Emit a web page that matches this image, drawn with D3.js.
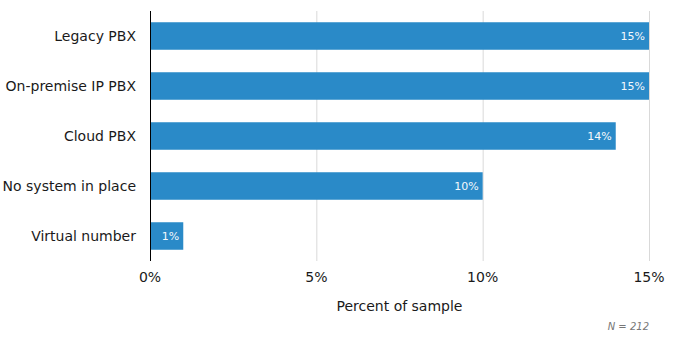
<!DOCTYPE html>
<html>
<head>
<meta charset="utf-8">
<script src="https://cdn.jsdelivr.net/npm/d3@7"></script>
<style>
  body { margin: 0; background: #fff; }
  text { font-family: Verdana, "DejaVu Sans", sans-serif; }
</style>
</head>
<body>
<div id="chart"></div>
<script>
const categories = ['Legacy PBX', 'On-premise IP PBX', 'Cloud PBX', 'No system in place', 'Virtual number'];
const values = [15, 15, 14, 10, 1];
const ticks = [0, 5, 10, 15];
const axisTitle = 'Percent of sample';
const note = 'N = 212';

const width = 675;
const height = 353;
const margin = { top: 11, right: 26, bottom: 92, left: 150 };

const svg = d3.select('#chart')
    .append('svg')
    .attr('width', width)
    .attr('height', height);

const x = d3.scaleLinear()
    .domain([0, 15])
    .range([margin.left, width - margin.right]);

const y = d3.scaleBand()
    .domain(categories)
    .range([margin.top, height - margin.bottom])
    .paddingInner(0.45)
    .paddingOuter(0.225);

// Gridlines
svg.append('g')
    .selectAll('line')
    .data(ticks.filter(t => t > 0))
    .enter().append('line')
    .attr('x1', d => x(d) + 0.5)
    .attr('x2', d => x(d) + 0.5)
    .attr('y1', margin.top)
    .attr('y2', height - margin.bottom)
    .attr('stroke', '#d9d9d9')
    .attr('stroke-width', 1);

// Bars
svg.append('g')
    .selectAll('rect')
    .data(values)
    .enter().append('rect')
    .attr('x', x(0))
    .attr('y', (d, i) => y(categories[i]))
    .attr('width', d => x(d) - x(0))
    .attr('height', y.bandwidth())
    .attr('fill', '#2a8ac8');

// Value labels
svg.append('g')
    .selectAll('text')
    .data(values)
    .enter().append('text')
    .attr('x', d => x(d) - 4)
    .attr('y', (d, i) => y(categories[i]) + y.bandwidth() / 2)
    .attr('dy', '0.35em')
    .attr('text-anchor', 'end')
    .attr('fill', '#f4f8fc')
    .style('font-size', '11px')
    .text(d => d + '%');

// Category labels
svg.append('g')
    .selectAll('text')
    .data(categories)
    .enter().append('text')
    .attr('x', margin.left - 14)
    .attr('y', d => y(d) + y.bandwidth() / 2)
    .attr('dy', '0.35em')
    .attr('text-anchor', 'end')
    .attr('fill', '#1a1a1a')
    .style('font-size', '14px')
    .text(d => d);

// Axis line
svg.append('line')
    .attr('x1', x(0) + 0.5)
    .attr('x2', x(0) + 0.5)
    .attr('y1', margin.top)
    .attr('y2', height - margin.bottom)
    .attr('stroke', '#000');

// Tick labels
svg.append('g')
    .selectAll('text')
    .data(ticks)
    .enter().append('text')
    .attr('x', d => x(d))
    .attr('y', height - margin.bottom + 21)
    .attr('text-anchor', 'middle')
    .attr('fill', '#1a1a1a')
    .style('font-size', '14px')
    .text(d => d + '%');

// Axis title
svg.append('text')
    .attr('x', (x(0) + x(15)) / 2)
    .attr('y', height - margin.bottom + 50)
    .attr('text-anchor', 'middle')
    .attr('fill', '#1a1a1a')
    .style('font-size', '14px')
    .text(axisTitle);

// Note
svg.append('text')
    .attr('x', x(15))
    .attr('y', height - margin.bottom + 69)
    .attr('text-anchor', 'end')
    .attr('fill', '#777')
    .style('font-size', '10px')
    .style('font-style', 'italic')
    .text(note);
</script>
</body>
</html>
